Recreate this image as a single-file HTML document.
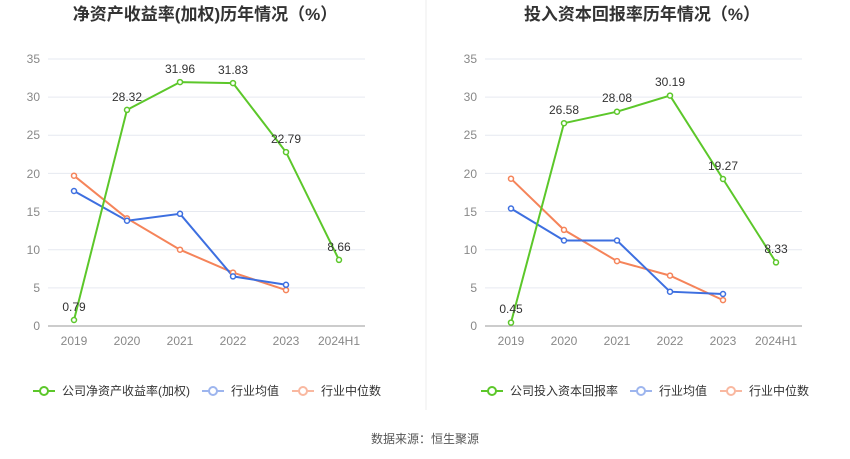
<!DOCTYPE html>
<html><head><meta charset="utf-8"><style>
body{margin:0;background:#fff;}
svg{display:block;font-family:"Liberation Sans","Noto Sans CJK SC",sans-serif;}
</style></head><body>
<svg width="850" height="459" viewBox="0 0 850 459">
<rect width="850" height="459" fill="#fff"/>
<line x1="426" y1="0" x2="426" y2="410" stroke="#eeeeee"/>
<text x="205" y="20" font-size="17" font-weight="bold" fill="#333" text-anchor="middle">净资产收益率(加权)历年情况（%）</text>
<text x="642" y="20" font-size="17" font-weight="bold" fill="#333" text-anchor="middle">投入资本回报率历年情况（%）</text>
<g stroke="#e6e9f0" stroke-width="1">
<line x1="48" x2="365" y1="59" y2="59"/><line x1="48" x2="365" y1="97.1" y2="97.1"/><line x1="48" x2="365" y1="135.25" y2="135.25"/><line x1="48" x2="365" y1="173.4" y2="173.4"/><line x1="48" x2="365" y1="211.55" y2="211.55"/><line x1="48" x2="365" y1="249.7" y2="249.7"/><line x1="48" x2="365" y1="287.85" y2="287.85"/>
<line x1="485" x2="802" y1="59" y2="59"/><line x1="485" x2="802" y1="97.1" y2="97.1"/><line x1="485" x2="802" y1="135.25" y2="135.25"/><line x1="485" x2="802" y1="173.4" y2="173.4"/><line x1="485" x2="802" y1="211.55" y2="211.55"/><line x1="485" x2="802" y1="249.7" y2="249.7"/><line x1="485" x2="802" y1="287.85" y2="287.85"/>
</g>
<line x1="48" x2="365" y1="326" y2="326" stroke="#999"/>
<line x1="485" x2="802" y1="326" y2="326" stroke="#999"/>
<g font-size="12" fill="#888" text-anchor="end">
<text x="40" y="330">0</text><text x="40" y="292">5</text><text x="40" y="254">10</text><text x="40" y="216">15</text><text x="40" y="178">20</text><text x="40" y="139">25</text><text x="40" y="101">30</text><text x="40" y="63">35</text>
<text x="477" y="330">0</text><text x="477" y="292">5</text><text x="477" y="254">10</text><text x="477" y="216">15</text><text x="477" y="178">20</text><text x="477" y="139">25</text><text x="477" y="101">30</text><text x="477" y="63">35</text>
</g>
<g font-size="12" fill="#888" text-anchor="middle">
<text x="74" y="345">2019</text><text x="127" y="345">2020</text><text x="180" y="345">2021</text><text x="233" y="345">2022</text><text x="286" y="345">2023</text><text x="339" y="345">2024H1</text>
<text x="511" y="345">2019</text><text x="564" y="345">2020</text><text x="617" y="345">2021</text><text x="670" y="345">2022</text><text x="723" y="345">2023</text><text x="776" y="345">2024H1</text>
</g>
<g fill="#fff" stroke-width="2">
<polyline fill="none" stroke="#f5845a" points="74,175.7 127,218.4 180,249.7 233,272.6 286,290.1"/>
<polyline fill="none" stroke="#3d6fe0" points="74,191 127,220.7 180,213.8 233,276.4 286,284.8"/>
<polyline fill="none" stroke="#5cc72a" points="74,320 127,109.9 180,82.1 233,83.1 286,152.1 339,259.9"/>
<polyline fill="none" stroke="#f5845a" points="511,178.7 564,229.9 617,261.1 670,275.6 723,300.1"/>
<polyline fill="none" stroke="#3d6fe0" points="511,208.5 564,240.5 617,240.5 670,291.7 723,294"/>
<polyline fill="none" stroke="#5cc72a" points="511,322.6 564,123.2 617,111.7 670,95.6 723,179 776,262.4"/>
</g>
<g fill="#fff" stroke-width="1.5">
<g stroke="#f5845a"><circle cx="74" cy="175.7" r="2.5"/><circle cx="127" cy="218.4" r="2.5"/><circle cx="180" cy="249.7" r="2.5"/><circle cx="233" cy="272.6" r="2.5"/><circle cx="286" cy="290.1" r="2.5"/>
<circle cx="511" cy="178.7" r="2.5"/><circle cx="564" cy="229.9" r="2.5"/><circle cx="617" cy="261.1" r="2.5"/><circle cx="670" cy="275.6" r="2.5"/><circle cx="723" cy="300.1" r="2.5"/></g>
<g stroke="#3d6fe0"><circle cx="74" cy="191" r="2.5"/><circle cx="127" cy="220.7" r="2.5"/><circle cx="180" cy="213.8" r="2.5"/><circle cx="233" cy="276.4" r="2.5"/><circle cx="286" cy="284.8" r="2.5"/>
<circle cx="511" cy="208.5" r="2.5"/><circle cx="564" cy="240.5" r="2.5"/><circle cx="617" cy="240.5" r="2.5"/><circle cx="670" cy="291.7" r="2.5"/><circle cx="723" cy="294" r="2.5"/></g>
<g stroke="#5cc72a"><circle cx="74" cy="320" r="2.5"/><circle cx="127" cy="109.9" r="2.5"/><circle cx="180" cy="82.1" r="2.5"/><circle cx="233" cy="83.1" r="2.5"/><circle cx="286" cy="152.1" r="2.5"/><circle cx="339" cy="259.9" r="2.5"/>
<circle cx="511" cy="322.6" r="2.5"/><circle cx="564" cy="123.2" r="2.5"/><circle cx="617" cy="111.7" r="2.5"/><circle cx="670" cy="95.6" r="2.5"/><circle cx="723" cy="179" r="2.5"/><circle cx="776" cy="262.4" r="2.5"/></g>
</g>
<g font-size="12" fill="#333" text-anchor="middle">
<text x="74" y="311">0.79</text><text x="127" y="101">28.32</text><text x="180" y="73">31.96</text><text x="233" y="74">31.83</text><text x="286" y="143">22.79</text><text x="339" y="251">8.66</text>
<text x="511" y="313">0.45</text><text x="564" y="114">26.58</text><text x="617" y="102">28.08</text><text x="670" y="86">30.19</text><text x="723" y="170">19.27</text><text x="776" y="253">8.33</text>
</g>
<g font-size="12" fill="#333">
<line x1="33" x2="55" y1="391" y2="391" stroke="#5cc72a" stroke-width="2"/><circle cx="44" cy="391" r="4" fill="#fff" stroke="#5cc72a" stroke-width="2"/>
<text x="62" y="395">公司净资产收益率(加权)</text>
<line x1="202" x2="224" y1="391" y2="391" stroke="#9db5ee" stroke-width="2"/><circle cx="213" cy="391" r="4" fill="#fff" stroke="#9db5ee" stroke-width="2"/>
<text x="231" y="395">行业均值</text>
<line x1="292" x2="314" y1="391" y2="391" stroke="#f9b8a0" stroke-width="2"/><circle cx="303" cy="391" r="4" fill="#fff" stroke="#f9b8a0" stroke-width="2"/>
<text x="321" y="395">行业中位数</text>
<line x1="481" x2="503" y1="391" y2="391" stroke="#5cc72a" stroke-width="2"/><circle cx="492" cy="391" r="4" fill="#fff" stroke="#5cc72a" stroke-width="2"/>
<text x="510" y="395">公司投入资本回报率</text>
<line x1="630" x2="652" y1="391" y2="391" stroke="#9db5ee" stroke-width="2"/><circle cx="641" cy="391" r="4" fill="#fff" stroke="#9db5ee" stroke-width="2"/>
<text x="659" y="395">行业均值</text>
<line x1="720" x2="742" y1="391" y2="391" stroke="#f9b8a0" stroke-width="2"/><circle cx="731" cy="391" r="4" fill="#fff" stroke="#f9b8a0" stroke-width="2"/>
<text x="749" y="395">行业中位数</text>
</g>
<text x="425" y="443" font-size="12" fill="#555" text-anchor="middle">数据来源：恒生聚源</text>
</svg>
</body></html>
